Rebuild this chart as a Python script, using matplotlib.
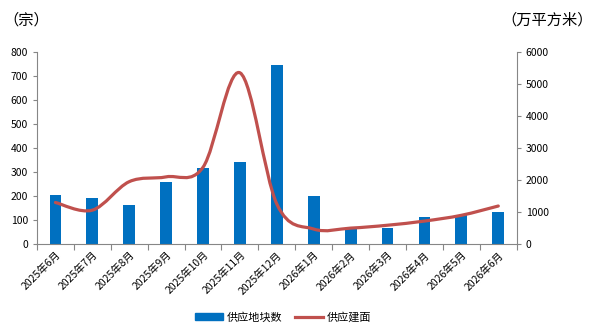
import numpy as np
import matplotlib.pyplot as plt
from matplotlib.path import Path
from matplotlib.patches import PathPatch
from matplotlib.lines import Line2D
from matplotlib.patches import Patch

plt.rcParams['font.family'] = ['Noto Sans CJK SC', 'DejaVu Sans']

months = ['2025年6月', '2025年7月', '2025年8月', '2025年9月', '2025年10月', '2025年11月',
          '2025年12月', '2026年1月', '2026年2月', '2026年3月', '2026年4月', '2026年5月', '2026年6月']
plots = [204, 192, 162, 258, 317, 342, 745, 200, 67, 68, 113, 123, 133]
area = [1300, 1060, 1950, 2100, 2400, 5350, 1250, 470, 500, 590, 720, 900, 1190]

bar_color = '#0070C0'
line_color = '#C0504D'
axis_color = '#868686'

fig = plt.figure(figsize=(5.96, 3.29), dpi=100)
ax = fig.add_axes([0.062, 0.258, 0.805, 0.584])
ax2 = ax.twinx()

x = np.arange(len(months))
ax.bar(x, plots, width=0.32, color=bar_color, zorder=2)

# smoothed line like Excel (Catmull-Rom -> cubic Bezier)
pts = np.column_stack([x, area]).astype(float)
verts = [pts[0]]
codes = [Path.MOVETO]
for i in range(len(pts) - 1):
    p0 = pts[i - 1] if i > 0 else pts[i]
    p1, p2 = pts[i], pts[i + 1]
    p3 = pts[i + 2] if i + 2 < len(pts) else pts[i + 1]
    c1 = p1 + (p2 - p0) / 6
    c2 = p2 - (p3 - p1) / 6
    verts += [c1, c2, p2]
    codes += [Path.CURVE4] * 3
ax2.add_patch(PathPatch(Path(verts, codes), fill=False, edgecolor=line_color,
                        lw=2.3, capstyle='round', zorder=3))

ax.set_xlim(-0.5, len(months) - 0.5)
ax.set_ylim(0, 800)
ax2.set_ylim(0, 6000)
ax.set_yticks(range(0, 801, 100))
ax2.set_yticks(range(0, 6001, 1000))

ax.set_xticks(x)
ax.set_xticklabels(months, rotation=45, ha='right', rotation_mode='anchor', fontsize=7.5)
ax.set_xticks(np.arange(-0.5, len(months), 1), minor=True)
ax.tick_params(axis='x', which='major', length=0, pad=4)
ax.tick_params(axis='x', which='minor', length=4, color=axis_color, width=0.8)
ax.tick_params(axis='y', length=3, color=axis_color, width=0.8, labelsize=7.5)
ax2.tick_params(axis='y', length=3, color=axis_color, width=0.8, labelsize=7.5)

for a in (ax, ax2):
    a.spines['top'].set_visible(False)
    for s in ('left', 'right', 'bottom'):
        a.spines[s].set_color(axis_color)
        a.spines[s].set_linewidth(0.8)
ax.spines['right'].set_visible(False)
ax2.spines['left'].set_visible(False)
ax2.spines['bottom'].set_visible(False)

fig.text(0.005, 0.94, '（宗）', fontsize=11, va='center', ha='left')
fig.text(0.995, 0.94, '（万平方米）', fontsize=11, va='center', ha='right')

handles = [Patch(color=bar_color), Line2D([], [], color=line_color, lw=2.3)]
fig.legend(handles, ['供应地块数', '供应建面'], loc='center', bbox_to_anchor=(0.475, 0.035),
           ncol=2, frameon=False, fontsize=8, handlelength=2.5, handleheight=0.6,
           columnspacing=1.2, handletextpad=0.3)

fig.savefig('out.png', dpi=100)
